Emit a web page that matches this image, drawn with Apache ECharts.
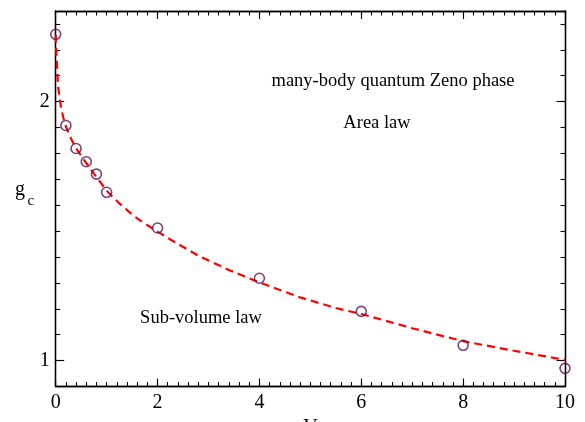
<!DOCTYPE html>
<html>
<head>
<meta charset="utf-8">
<script src="https://cdn.jsdelivr.net/npm/echarts@6/dist/echarts.min.js"></script>
<style>html,body{margin:0;padding:0;background:#fff}#c{width:585px;height:422px}</style>
</head>
<body>
<div id="c"></div>
<script>
// data
const pointsX = [0, 0.2, 0.4, 0.6, 0.8, 1, 2, 4, 6, 8, 10];
const pointsY = [2.260, 1.908, 1.819, 1.768, 1.720, 1.650, 1.512, 1.318, 1.190, 1.059, 0.970];
const fitX = [0, 0.008, 0.02, 0.045, 0.08, 0.11, 0.15, 0.19, 0.25, 0.3, 0.4, 0.5, 0.6, 0.75, 0.9, 1.0, 1.25, 1.55, 1.9, 2.3, 2.8, 3.4, 4.0, 4.8, 5.5, 6.0, 7.0, 8.0, 9.0, 10.0];
const fitY = [2.258, 2.205, 2.164, 2.062, 2.010, 1.972, 1.938, 1.910, 1.880, 1.858, 1.820, 1.791, 1.763, 1.722, 1.683, 1.656, 1.607, 1.556, 1.510, 1.462, 1.405, 1.350, 1.302, 1.244, 1.203, 1.180, 1.125, 1.075, 1.038, 1.003];
const yMajorTicks = [1, 2];
const xTickLabels = [0, 2, 4, 6, 8, 10];
const annotations = [
  {text: 'many-body quantum Zeno phase', x: 393, y: 81},
  {text: 'Area law', x: 377, y: 123},
  {text: 'Sub-volume law', x: 201, y: 318}
];

const FONT = '"Liberation Serif", "DejaVu Serif", serif';
const lineStyle = {color: '#000', width: 1.3};
const chart = echarts.init(document.getElementById('c'), null, {renderer: 'canvas'});

function xAx(pos, major, labels) {
  return {
    type: 'value', position: pos, min: 0, max: 10,
    interval: major ? 2 : 0.2,
    axisLine: {show: true, onZero: false, lineStyle},
    axisTick: {show: true, inside: true, length: major ? 8 : 4.5, lineStyle: {color: '#000', width: 1.1}},
    axisLabel: labels ? {show: true, margin: 6, color: '#000', fontFamily: FONT, fontSize: 20,
      formatter: v => xTickLabels.indexOf(v) >= 0 ? String(v) : ''} : {show: false},
    splitLine: {show: false},
    name: labels ? 'V' : '', nameLocation: 'middle', nameGap: 24,
    nameTextStyle: {color: '#000', fontFamily: FONT, fontSize: 20}
  };
}
function yAx(pos, major, labels) {
  const a = {
    type: 'value', position: pos, min: 0.9, max: 2.35,
    axisLine: {show: true, onZero: false, lineStyle},
    axisTick: {show: true, inside: true, length: major ? 8.5 : 4.5, lineStyle: {color: '#000', width: 1.1}},
    axisLabel: {show: false},
    splitLine: {show: false}
  };
  if (major) {
    a.axisTick.customValues = yMajorTicks;
    if (labels) {
      a.axisLabel = {show: true, margin: 6, color: '#000', fontFamily: FONT, fontSize: 20, customValues: yMajorTicks};
    }
  } else {
    a.interval = 0.1;
  }
  return a;
}

const graphics = annotations.map(a => ({
  type: 'text', x: a.x, y: a.y, silent: true,
  style: {text: a.text, fill: '#000', font: '18.5px ' + FONT, align: 'center', verticalAlign: 'middle'}
}));
graphics.push({type: 'text', x: 15, y: 190, style: {text: 'g', fill: '#000', font: '20px ' + FONT, align: 'left', verticalAlign: 'middle'}});
graphics.push({type: 'text', x: 27.5, y: 201, style: {text: 'c', fill: '#000', font: '15px ' + FONT, align: 'left', verticalAlign: 'middle'}});

chart.setOption({
  animation: false,
  backgroundColor: '#fff',
  grid: {left: 55.7, right: 20, top: 11, bottom: 35.5, containLabel: false, outerBoundsMode: 'none'},
  xAxis: [xAx('bottom', false, false), xAx('bottom', true, true), xAx('top', false, false), xAx('top', true, false)],
  yAxis: [yAx('left', false, false), yAx('left', true, true), yAx('right', false, false), yAx('right', true, false)],
  graphic: graphics,
  series: [
    {
      type: 'line', xAxisIndex: 0, yAxisIndex: 0,
      data: fitX.map((x, i) => [x, fitY[i]]),
      showSymbol: false, smooth: false,
      lineStyle: {color: '#ff0000', width: 2.2, type: [8, 5]},
      z: 2
    },
    {
      type: 'scatter', xAxisIndex: 0, yAxisIndex: 0,
      data: pointsX.map((x, i) => [x, pointsY[i]]),
      symbol: 'circle', symbolSize: 10,
      itemStyle: {color: 'rgba(0,0,0,0)', borderColor: '#5c1352', borderWidth: 1.6},
      z: 3
    }
  ]
});
</script>
</body>
</html>
